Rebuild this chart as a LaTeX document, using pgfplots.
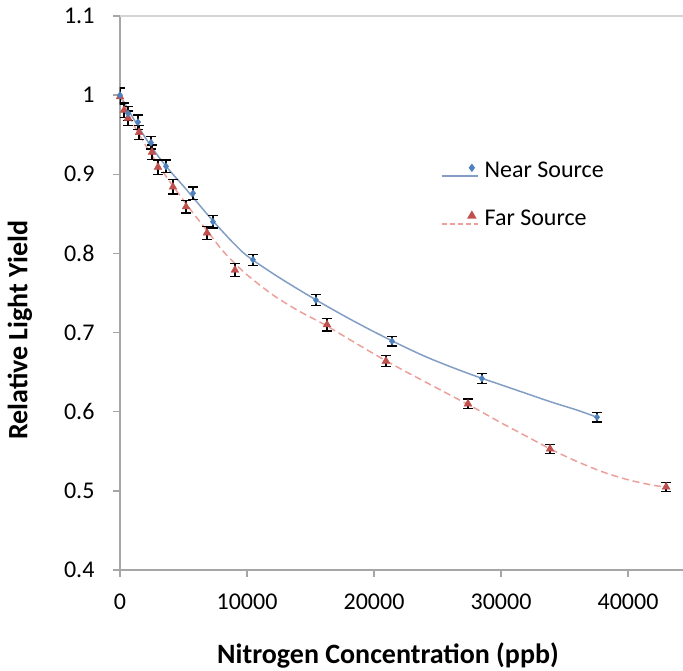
\documentclass[border=0pt]{standalone}
\usepackage{fontspec}
\setmainfont{Carlito}
\usepackage{pgfplots}
\pgfplotsset{compat=1.18}
\definecolor{axgray}{RGB}{166,166,166}
\definecolor{gridgray}{RGB}{212,212,212}
\definecolor{nearmk}{RGB}{79,129,189}
\definecolor{farmk}{RGB}{192,80,77}
\definecolor{nearln}{RGB}{130,158,196}
\definecolor{farln}{RGB}{236,160,155}
\begin{document}
\begin{tikzpicture}
\useasboundingbox (-120pt,-100pt) rectangle (563pt,570pt);
\begin{axis}[
 at={(0pt,0pt)}, anchor=south west,
 scale only axis, width=563pt, height=554pt,
 xmin=0, xmax=44330, ymin=0.4, ymax=1.1,
 axis x line*=bottom, axis y line*=left,
 axis line style={axgray, line width=2pt, -},
 xtick={0,10000,20000,30000,40000},
 ytick={0.4,0.5,0.6,0.7,0.8,0.9,1,1.1},
 tick align=outside, major tick length=7pt,
 tick style={axgray, line width=1.5pt},
 scaled x ticks=false,
 xticklabel style={/pgf/number format/1000 sep=, yshift=-13pt},
 yticklabel style={xshift=-15pt},
 ticklabel style={font=\fontsize{24}{28}\selectfont},
 /pgf/number format/assume math mode=true,
 extra y ticks={1.1}, extra y tick labels={},
 extra y tick style={grid=major, major grid style={gridgray, line width=2pt}, major tick length=0pt},
 xlabel={Nitrogen Concentration (ppb)},
 ylabel={Relative Light Yield},
 label style={font=\fontsize{28}{32}\selectfont\bfseries},
 xlabel style={at={(axis description cs:0.476,-0.1534)}, anchor=center},
 ylabel style={at={(axis description cs:-0.178,0.433)}, anchor=center},
 legend style={at={(axis description cs:0.570,0.740)}, anchor=north west, draw=none, fill=none,
   font=\fontsize{24}{28}\selectfont, row sep=27pt, inner sep=0pt, cells={anchor=west}},
 legend image code/.code={
   \draw[#1, mark=none] (0pt,-5pt) -- (36pt,-5pt);
   \draw[#1] plot coordinates {(30pt,3pt)};
 },
 error bars/error bar style={black, line width=1.3pt},
 error bars/error mark options={rotate=90, mark size=5pt, black, line width=1.3pt},
]
\addlegendimage{nearln, line width=1.5pt, mark=diamond*, mark size=3pt, mark options={nearmk, fill=nearmk, solid}}
\addlegendimage{farln, line width=1.5pt, dash pattern=on 5pt off 3pt, mark=triangle*, mark size=4pt, mark options={farmk, fill=farmk, solid}}
\legend{\hspace{4pt}Near Source, \hspace{4pt}Far Source}

% fitted curves
\addplot[forget plot, nearln, line width=1.5pt, smooth] coordinates {
(0,1.000)(1000,0.972)(2000,0.946)(3000,0.923)(4000,0.903)(5000,0.885)(6000,0.866)(7000,0.847)(8000,0.829)(9000,0.812)(10000,0.797)(12000,0.775)(14000,0.755)(16000,0.736)(18000,0.718)(20000,0.701)(22000,0.685)(24000,0.670)(26000,0.657)(28000,0.645)(30000,0.634)(32000,0.623)(34000,0.612)(36000,0.602)(37560,0.593)};
\addplot[forget plot, farln, line width=1.5pt, dash pattern=on 7pt off 4pt, smooth] coordinates {
(0,1.000)(1000,0.965)(2000,0.937)(3000,0.912)(4000,0.889)(5000,0.867)(6000,0.846)(7000,0.826)(8000,0.805)(9000,0.788)(10000,0.773)(12000,0.748)(14000,0.728)(16000,0.711)(18000,0.692)(20000,0.673)(22000,0.655)(24000,0.638)(26000,0.621)(28000,0.604)(30000,0.586)(32000,0.569)(34000,0.552)(36000,0.537)(38000,0.524)(40000,0.514)(42000,0.507)(43000,0.505)};

% Far source data
\addplot[forget plot, only marks, mark=triangle*, mark size=4.5pt, color=farmk,
  error bars/.cd, y dir=both, y explicit] coordinates {
(0,0.998) +- (0,0.010)
(315,0.981) +- (0,0.009)
(630,0.971) +- (0,0.009)
(1500,0.953) +- (0,0.009)
(2520,0.928) +- (0,0.009)
(2990,0.909) +- (0,0.009)
(4170,0.884) +- (0,0.009)
(5200,0.859) +- (0,0.008)
(6850,0.826) +- (0,0.008)
(9050,0.779) +- (0,0.008)
(16300,0.710) +- (0,0.008)
(20940,0.664) +- (0,0.007)
(27400,0.610) +- (0,0.006)
(33860,0.553) +- (0,0.006)
(43000,0.505) +- (0,0.006)};

% Near source data
\addplot[forget plot, only marks, mark=diamond*, mark size=3.5pt, color=nearmk,
  error bars/.cd, y dir=both, y explicit] coordinates {
(0,1.000) +- (0,0.010)
(630,0.977) +- (0,0.009)
(1420,0.966) +- (0,0.009)
(2440,0.940) +- (0,0.008)
(3620,0.910) +- (0,0.008)
(5750,0.876) +- (0,0.008)
(7320,0.840) +- (0,0.008)
(10470,0.792) +- (0,0.007)
(15430,0.741) +- (0,0.007)
(21420,0.689) +- (0,0.006)
(28500,0.642) +- (0,0.006)
(37560,0.593) +- (0,0.006)};
\end{axis}
\end{tikzpicture}
\end{document}
